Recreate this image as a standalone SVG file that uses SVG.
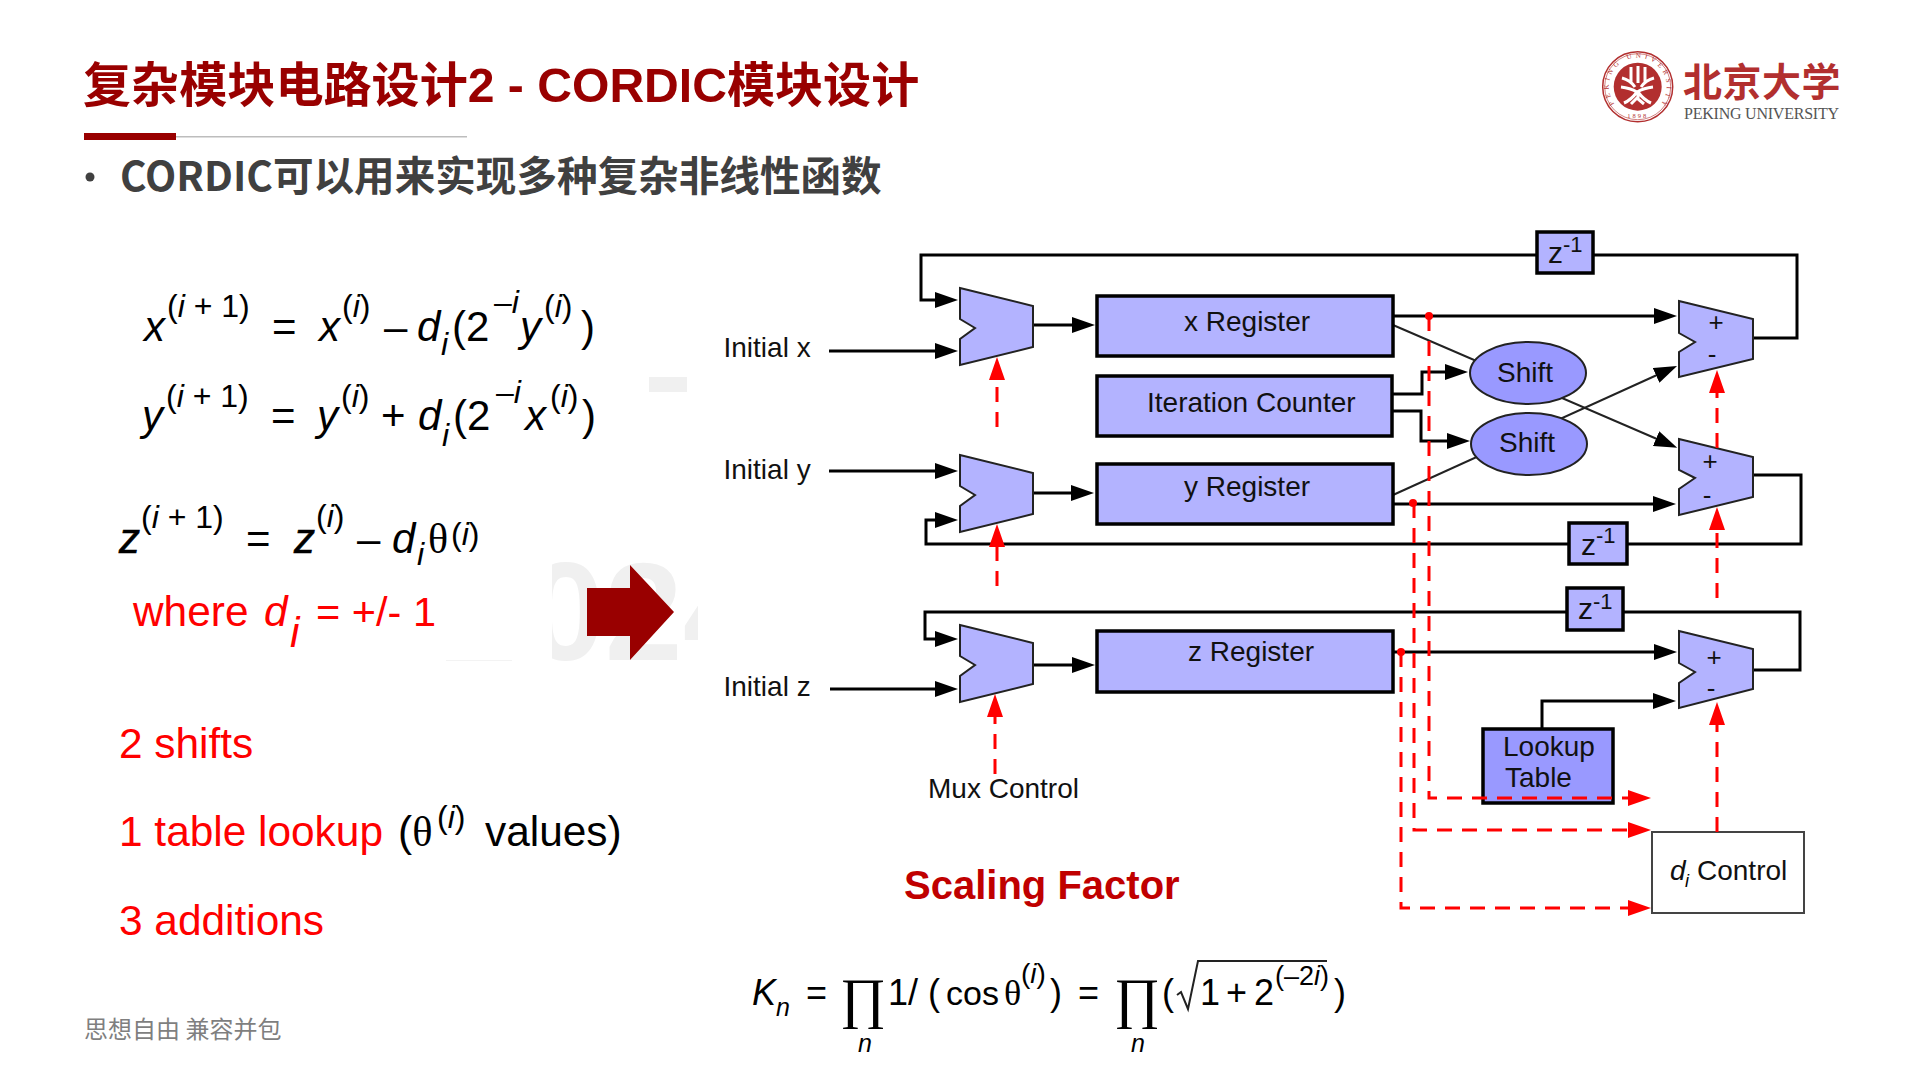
<svg xmlns="http://www.w3.org/2000/svg" width="1920" height="1080" viewBox="0 0 1920 1080">
<style>
text{font-family:"Liberation Sans",Arial,sans-serif;fill:#000}
.cjk{font-family:"Liberation Sans","Noto Sans CJK SC",sans-serif}
.title{font-size:48.1px;font-weight:700;fill:#990000}
.sub{font-family:"Noto Sans CJK SC",sans-serif;font-size:40.6px;font-weight:700;fill:#404040}
.foot{font-family:"Noto Sans CJK SC",sans-serif;font-size:24px;fill:#7f7f7f}
.lab{font-size:28px;fill:#111}
.z{font-size:30px;fill:#111}
.e1{font-size:22px;fill:#111}
.pm{font-size:26px;fill:#111}
.m{font-size:42px}
.ms{font-size:32px}
.i{font-style:italic}
.hv{stroke:#000;stroke-width:.7}
.red{fill:#ff0000}
.big{font-size:42.4px}
.f{font-size:36px}
.fs{font-size:25px}
.serif{font-family:"Liberation Serif","DejaVu Serif",serif}
.wire{fill:none;stroke:#000;stroke-width:3}
.thin{fill:none;stroke:#222;stroke-width:2}
.dash{fill:none;stroke:#ff0000;stroke-width:3;stroke-dasharray:15 10}
.box{fill:#b3b3ff;stroke:#000;stroke-width:3.5}
.trap{fill:#b3b3ff;stroke:#222;stroke-width:2}
.oval{fill:#9999ff;stroke:#222;stroke-width:2}
</style>
<defs>
<marker id="ah" markerUnits="userSpaceOnUse" markerWidth="24" markerHeight="16" refX="1" refY="8" orient="auto"><path d="M0 0L23 8L0 16Z" fill="#000"/></marker>
<marker id="rh" markerUnits="userSpaceOnUse" markerWidth="24" markerHeight="16" refX="1" refY="8" orient="auto"><path d="M0 0L23 8L0 16Z" fill="#f00"/></marker>
<clipPath id="wm"><rect x="552" y="555" width="146" height="108"/></clipPath>
<path id="ring" d="M1637.7 115.7A29 29 0 1 1 1637.8 115.7"/>
</defs>
<rect width="1920" height="1080" fill="#fff"/>

<g id="watermark">
<text x="527" y="660" font-size="140" font-weight="700" style="fill:#f0f0f0" clip-path="url(#wm)">024</text>
<rect x="649" y="377" width="38" height="15" fill="#f0f0f0"/>
<rect x="446" y="660" width="66" height="1" fill="#f3f3f3"/>
</g>

<g id="header">
<text class="title cjk" x="83" y="102">复杂模块电路设计2 - CORDIC模块设计</text>
<rect x="84" y="133" width="92" height="7" fill="#990000"/>
<rect x="176" y="136" width="291" height="1.5" fill="#bdbdbd"/>
<circle cx="90" cy="177" r="4.5" fill="#404040"/>
<text class="sub" x="120" y="191">CORDIC可以用来实现多种复杂非线性函数</text>
</g>

<g id="logo">
<circle cx="1637.7" cy="86.7" r="35" fill="none" stroke="#b22f2f" stroke-width="1.5"/>
<circle cx="1637.7" cy="86.7" r="24" fill="#b22f2f"/>
<circle cx="1637.7" cy="86.7" r="33" fill="none" stroke="#b22f2f" stroke-width=".6"/>
<text font-size="7" style="fill:#b22f2f;font-family:'Liberation Serif',serif" textLength="128"><textPath href="#ring" startOffset="27">PEKING UNIVERSITY</textPath></text>
<text x="1637.7" y="118" font-size="6.5" text-anchor="middle" letter-spacing="2" style="fill:#b22f2f;font-family:'Liberation Serif',serif">1898</text>
<path d="M1631 67v15M1638 66v17M1645 67v15M1622 78q8 2 13 9M1654 78q-8 2-13 9M1621 87q9 1 16 5 7-4 16-5M1638 92v6M1637 92q-6 8-13 11M1638 92q6 8 13 11M1631 104l6-6 7 6" fill="none" stroke="#fff" stroke-width="3"/>
<text x="1683" y="96" font-size="39" letter-spacing=".5" font-weight="700" style="font-family:'Noto Sans CJK SC',sans-serif;fill:#b22f2f">北京大学</text>
<text x="1684" y="119" font-size="16" textLength="155" style="font-family:'Liberation Serif',serif;fill:#555">PEKING UNIVERSITY</text>
</g>

<g id="equations">
<text class="m i" x="144" y="341">x</text><text class="ms" x="167" y="317">(<tspan class="i">i</tspan> + 1)</text>
<text class="m" x="272" y="341">=</text>
<text class="m i" x="319" y="341">x</text><text class="ms" x="342" y="317">(<tspan class="i">i</tspan>)</text>
<text class="m" x="384" y="341">–</text>
<text class="m i" x="417" y="341">d</text><text class="ms i" x="441" y="355">i</text>
<text class="m" x="452" y="341">(2</text><text class="ms" x="494" y="313">–<tspan class="i">i</tspan></text>
<text class="m i" x="520" y="341">y</text><text class="ms" x="544" y="317">(<tspan class="i">i</tspan>)</text>
<text class="m" x="581" y="341">)</text>

<text class="m i" x="142" y="430">y</text><text class="ms" x="166" y="407">(<tspan class="i">i</tspan> + 1)</text>
<text class="m" x="271" y="430">=</text>
<text class="m i" x="317" y="430">y</text><text class="ms" x="341" y="407">(<tspan class="i">i</tspan>)</text>
<text class="m" x="381" y="430">+</text>
<text class="m i" x="418" y="430">d</text><text class="ms i" x="442" y="446">i</text>
<text class="m" x="453" y="430">(2</text><text class="ms" x="496" y="403">–<tspan class="i">i</tspan></text>
<text class="m i" x="525" y="430">x</text><text class="ms" x="550" y="407">(<tspan class="i">i</tspan>)</text>
<text class="m" x="582" y="430">)</text>

<text class="m i hv" x="119" y="553">z</text><text class="ms" x="141" y="528">(<tspan class="i">i</tspan> + 1)</text>
<text class="m" x="246" y="553">=</text>
<text class="m i hv" x="294" y="553">z</text><text class="ms" x="316" y="527">(<tspan class="i">i</tspan>)</text>
<text class="m" x="357" y="553">–</text>
<text class="m i" x="392" y="553">d</text><text class="ms i" x="417" y="565">i</text>
<text class="m serif" x="428" y="553">θ</text><text class="ms" x="451" y="545">(<tspan class="i">i</tspan>)</text>

<text class="big red" x="133" y="626">where</text>
<text class="big red i" x="264" y="626">d</text><text class="big red i" x="290" y="647">i</text>
<text class="big red" x="316" y="626" style="font-size:41.5px">= +/- 1</text>
</g>

<polygon id="bigArrow" points="587,588 630,588 630,565 674,612 630,660 630,636 587,636" fill="#990000"/>

<g id="counts">
<text class="big red" x="119" y="758">2 shifts</text>
<text class="big red" x="119" y="846">1 table lookup</text>
<text class="big" x="398" y="846">(<tspan class="serif">θ</tspan></text>
<text class="ms" x="437" y="828">(<tspan class="i">i</tspan>)</text>
<text class="big" x="485" y="846">values)</text>
<text class="big red" x="119" y="935">3 additions</text>
<text class="foot" x="84" y="1038">思想自由 兼容并包</text>
</g>

<g id="connectors">
<path class="wire" d="M1537 255H921V300H936" marker-end="url(#ah)"/>
<path class="wire" d="M1593 255H1797V338H1753"/>
<path class="wire" d="M829 351H936" marker-end="url(#ah)"/>
<path class="wire" d="M1033 325H1073" marker-end="url(#ah)"/>
<path class="wire" d="M829 471H936" marker-end="url(#ah)"/>
<path class="wire" d="M1033 493H1072" marker-end="url(#ah)"/>
<path class="wire" d="M1569 544H926V520H936" marker-end="url(#ah)"/>
<path class="wire" d="M1627 544H1801V475H1753"/>
<path class="wire" d="M1567 612H925V639H936" marker-end="url(#ah)"/>
<path class="wire" d="M1623 612H1800V670H1753"/>
<path class="wire" d="M830 689H936" marker-end="url(#ah)"/>
<path class="wire" d="M1033 665H1073" marker-end="url(#ah)"/>
<path class="wire" d="M1393 316H1655" marker-end="url(#ah)"/>
<path class="wire" d="M1393 504H1654" marker-end="url(#ah)"/>
<path class="wire" d="M1393 652H1655" marker-end="url(#ah)"/>
<path class="wire" d="M1389 394H1422V372H1446" marker-end="url(#ah)"/>
<path class="wire" d="M1389 411H1421V441H1448" marker-end="url(#ah)"/>
<path class="wire" d="M1542 729V701H1654" marker-end="url(#ah)"/>
<path class="thin" d="M1393 325L1657 439" marker-end="url(#ah)"/>
<path class="thin" d="M1393 495L1657 375" marker-end="url(#ah)"/>
</g>

<g id="mux-x"><polygon class="trap" points="960,288 1033,306 1033,347 960,365 960,339 975,328 960,319"/></g>
<g id="mux-y"><polygon class="trap" points="960,455 1033,473 1033,514 960,532 960,506 975,495 960,486"/></g>
<g id="mux-z"><polygon class="trap" points="960,625 1033,643 1033,684 960,702 960,676 975,665 960,656"/></g>

<g id="x-register"><rect class="box" x="1097" y="296" width="296" height="60"/><text class="lab" x="1184" y="331">x Register</text></g>
<g id="iteration-counter"><rect class="box" x="1097" y="376" width="295" height="60"/><text class="lab" x="1147" y="412">Iteration Counter</text></g>
<g id="y-register"><rect class="box" x="1097" y="464" width="296" height="60"/><text class="lab" x="1184" y="496">y Register</text></g>
<g id="z-register"><rect class="box" x="1097" y="631" width="296" height="61"/><text class="lab" x="1188" y="661">z Register</text></g>

<g id="shift-1"><ellipse class="oval" cx="1528" cy="373" rx="58" ry="31"/><text class="lab" x="1497" y="382">Shift</text></g>
<g id="shift-2"><ellipse class="oval" cx="1529" cy="444" rx="58" ry="31"/><text class="lab" x="1499" y="452">Shift</text></g>

<g id="adder-x"><polygon class="trap" points="1679,301 1753,319 1753,359 1679,377 1679,352 1695,342 1679,333"/><text class="pm" x="1716" y="331" text-anchor="middle">+</text><text class="pm" x="1712" y="363" text-anchor="middle">-</text></g>
<g id="adder-y"><polygon class="trap" points="1679,439 1753,457 1753,497 1679,515 1679,489 1695,478 1679,470"/><text class="pm" x="1710" y="470" text-anchor="middle">+</text><text class="pm" x="1707" y="504" text-anchor="middle">-</text></g>
<g id="adder-z"><polygon class="trap" points="1679,631 1753,649 1753,689 1679,708 1679,683 1695,672 1679,663"/><text class="pm" x="1714" y="666" text-anchor="middle">+</text><text class="pm" x="1711" y="697" text-anchor="middle">-</text></g>

<g id="delay-x"><rect class="box" x="1537" y="232" width="56" height="41"/><text class="z" x="1548" y="263">z</text><text class="e1" x="1563" y="252">-1</text></g>
<g id="delay-y"><rect class="box" x="1569" y="523" width="58" height="41"/><text class="z" x="1581" y="555">z</text><text class="e1" x="1596" y="543">-1</text></g>
<g id="delay-z"><rect class="box" x="1567" y="588" width="56" height="42"/><text class="z" x="1578" y="619">z</text><text class="e1" x="1593" y="609">-1</text></g>

<g id="lookup-table"><rect class="box" x="1483" y="729" width="130" height="74" style="fill:#9999ff"/><text class="lab" x="1503" y="756">Lookup</text><text class="lab" x="1505" y="787">Table</text></g>
<g id="di-control"><rect x="1652" y="832" width="152" height="81" fill="#fff" stroke="#444" stroke-width="2"/><text class="lab i" x="1670" y="880">d</text><text x="1685" y="887" font-size="18" class="i">i</text><text class="lab" x="1697" y="880">Control</text></g>

<g id="labels">
<text class="lab" x="723.5" y="357">Initial x</text>
<text class="lab" x="723.5" y="479">Initial y</text>
<text class="lab" x="723.5" y="696">Initial z</text>
<text class="lab" x="928" y="798">Mux Control</text>
<text x="904" y="899" font-size="40" font-weight="700" style="fill:#c00000">Scaling Factor</text>
</g>

<g id="control-connectors">
<path class="dash" d="M997 427V379" marker-end="url(#rh)"/>
<path class="dash" d="M997 586V546" marker-end="url(#rh)"/>
<path class="dash" d="M995 774V716" marker-end="url(#rh)"/>
<path class="dash" d="M1717 448V392" marker-end="url(#rh)"/>
<path class="dash" d="M1717 598V529" marker-end="url(#rh)"/>
<path class="dash" d="M1717 832V724" marker-end="url(#rh)"/>
<path class="dash" d="M1429 316V798H1629" marker-end="url(#rh)"/>
<path class="dash" d="M1414 503V830H1629" marker-end="url(#rh)"/>
<path class="dash" d="M1401 652V908H1629" marker-end="url(#rh)"/>
<circle cx="1429" cy="316" r="4" fill="#f00"/>
<circle cx="1413" cy="503" r="4" fill="#f00"/>
<circle cx="1401" cy="652" r="4" fill="#f00"/>
</g>

<g id="scaling-formula">
<text class="f i" x="752" y="1005">K</text><text class="fs i" x="776" y="1016">n</text>
<text class="f" x="806" y="1005">=</text>
<text x="840" y="1017" font-size="56" class="serif">∏</text>
<text class="fs i" x="858" y="1052">n</text>
<text class="f" x="888" y="1005">1</text>
<text class="f" x="908" y="1005">/</text>
<text class="f" x="928" y="1005">(</text>
<text x="946" y="1005" font-size="34">cos</text>
<text class="f serif" x="1004" y="1005">θ</text>
<text x="1021" y="983" font-size="28">(<tspan class="i">i</tspan>)</text>
<text class="f" x="1050" y="1005">)</text>
<text class="f" x="1078" y="1005">=</text>
<text x="1114" y="1017" font-size="56" class="serif">∏</text>
<text class="fs i" x="1131" y="1052">n</text>
<text class="f" x="1162" y="1005">(</text>
<path d="M1177 995L1181 992L1188 1009L1198 961H1327" fill="none" stroke="#222" stroke-width="2"/>
<text class="f" x="1200" y="1005">1</text>
<text class="f" x="1226" y="1005">+</text>
<text class="f" x="1254" y="1005">2</text>
<text x="1275" y="985" font-size="27">(–2<tspan class="i">i</tspan>)</text>
<text class="f" x="1334" y="1005">)</text>
</g>
</svg>
